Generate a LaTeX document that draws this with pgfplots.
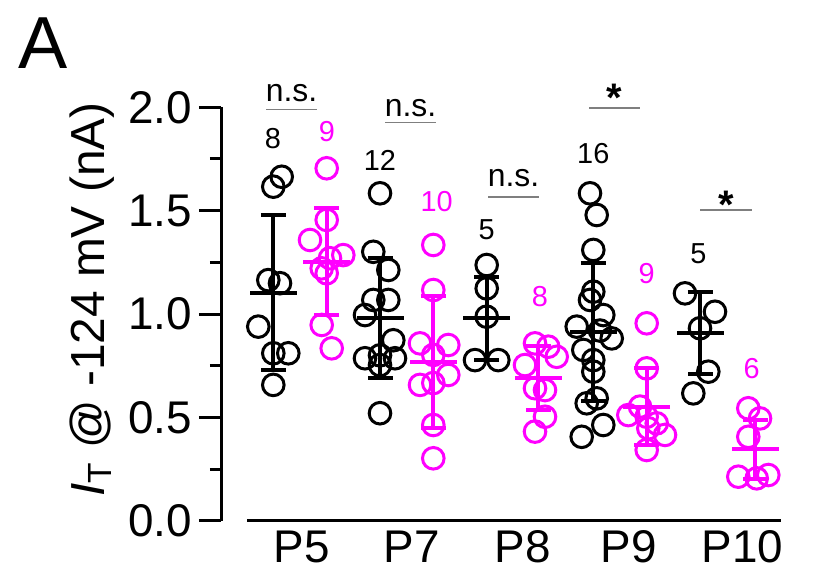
\documentclass[border=0pt]{standalone}
\usepackage{pgfplots}
\pgfplotsset{compat=1.18}
\usepackage{fontspec}
\setmainfont{Liberation Sans}
\definecolor{mag}{HTML}{FF00FF}
\definecolor{sigline}{HTML}{7F7F7F}
\begin{document}
\begin{tikzpicture}
\path[use as bounding box] (0,0) rectangle (407bp,-286bp);
\node[font=\fontsize{37}{37}\selectfont, anchor=center] at (21.5bp,-21.5bp) {A};
\begin{axis}[
  at={(110.5bp,-260.35bp)}, anchor=south west,
  scale only axis, width=281bp, height=206.7bp,
  xmin=221, xmax=783, ymin=0, ymax=2,
  clip=false,
  axis y line*=left, axis x line*=bottom,
  axis line style={-, line width=1.5bp},
  x axis line style={draw=none},
  tick align=outside,
  ytick={0,0.5,1,1.5,2},
  minor ytick={0.25,0.75,1.25,1.75},
  major tick length=11bp, minor tick length=5.5bp,
  every tick/.style={line width=1.5bp, black},
  major x tick style={draw=none},
  xtick={301.5,411.7,523,629,742.5},
  xticklabels={P5,P7,P8,P9,P10},
  xticklabel style={yshift=9.5bp},
  /pgf/number format/assume math mode=true,
  yticklabel={\pgfmathprintnumber[fixed,fixed zerofill,precision=1]{\tick}},
  tick label style={font=\fontsize{23}{23}\selectfont},
  ylabel={\textit{I}\textsubscript{T} @ -124 mV (nA)},
  ylabel style={font=\fontsize{24}{24}\selectfont, at={(axis description cs:-0.2295,0.535)}, anchor=center},
]
% x axis line
\addplot[black, line width=1.6bp] coordinates {(247,0) (781,0)};

% black circles
\addplot[only marks, mark=o, mark size=5.4bp, black, mark options={line width=1.5bp}] coordinates {
(273.3,1.616)(281.7,1.664)(268.3,1.164)(280,1.149)(258.3,0.939)(273.3,0.810)(288.3,0.810)(273.3,0.657)
(380,1.584)(373.3,1.301)(388.3,1.213)(373.3,1.068)(388.3,1.068)(365,0.995)(393.3,0.873)(365,0.786)(395,0.786)(380,0.753)(380,0.520)(380,0.80)
(486.7,1.237)(486.7,1.124)(486.7,0.987)(475,0.777)(498.3,0.777)
(590,1.584)(596.7,1.479)(593.3,1.310)(593.3,1.108)(590,1.068)(603.3,0.995)(576.7,0.939)(611.7,0.882)(583.3,0.826)(593.3,0.777)(593.3,0.721)(596.7,0.592)(586.7,0.568)(603.3,0.463)(581.7,0.406)(600,0.92)
(685,1.100)(715,1.011)(700,0.931)(708.3,0.721)(693.3,0.616)
};
% magenta circles
\addplot[only marks, mark=o, mark size=5.4bp, mag, mark options={line width=1.5bp}] coordinates {
(326.7,1.705)(326.7,1.455)(310,1.358)(343.3,1.285)(321.7,1.221)(326.7,1.197)(321.7,0.947)(331.7,0.834)(330,1.27)
(433.3,1.334)(433.3,1.116)(420,0.858)(448.3,0.850)(433.3,0.802)(420,0.657)(448.3,0.705)(433.3,0.666)(433.3,0.463)(433.3,0.302)
(535,0.858)(548.3,0.842)(556.7,0.793)(525,0.753)(535,0.641)(545,0.632)(545,0.503)(535,0.431)
(646.7,0.955)(646.7,0.737)(628.3,0.511)(640,0.552)(656.7,0.471)(648.3,0.447)(665,0.415)(646.7,0.342)(646.7,0.503)
(748.3,0.544)(760,0.495)(748.3,0.406)(738.3,0.213)(768.3,0.221)(756.7,0.205)
};

% mean +- SD, black
\addplot[only marks, black, mark=-, mark size=11.75bp, mark options={line width=2bp},
  error bars/.cd, y dir=both, y explicit,
  error bar style={line width=2bp},
  error mark options={rotate=90, mark size=6.25bp, line width=2bp}]
coordinates {
(273.3,1.103) +- (0,0.374)
(380,0.979) +- (0,0.290)
(486.7,0.979) +- (0,0.202)
(593.3,0.914) +- (0,0.335)
(700,0.907) +- (0,0.198)
};
% mean +- SD, magenta
\addplot[only marks, mag, mark=-, mark size=11.75bp, mark options={line width=2bp},
  error bars/.cd, y dir=both, y explicit,
  error bar style={line width=2bp},
  error mark options={rotate=90, mark size=6.25bp, line width=2bp}]
coordinates {
(326.7,1.253) +- (0,0.260)
(433.3,0.769) +- (0,0.320)
(538.3,0.689) +- (0,0.155)
(646.7,0.552) +- (0,0.185)
(755,0.345) +- (0,0.141)
};

% significance lines
\addplot[sigline, line width=0.8bp] coordinates {(266,1.990) (317,1.990)};
\addplot[sigline, line width=0.8bp] coordinates {(385,1.927) (436,1.927)};
\addplot[sigline, line width=0.8bp] coordinates {(488,1.567) (539,1.567)};
\addplot[sigline, line width=0.8bp] coordinates {(589,1.998) (640,1.998)};
\addplot[sigline, line width=0.8bp] coordinates {(700,1.503) (752,1.503)};

\node[font=\fontsize{16}{16}\selectfont] at (axis cs:291.5,2.069) {n.s.};
\node[font=\fontsize{16}{16}\selectfont] at (axis cs:410.5,1.997) {n.s.};
\node[font=\fontsize{16}{16}\selectfont] at (axis cs:513.5,1.658) {n.s.};
\node[font=\fontsize{20}{20}\selectfont\bfseries, anchor=base] at (axis cs:614.5,1.980) {*};
\node[font=\fontsize{20}{20}\selectfont\bfseries, anchor=base] at (axis cs:726,1.462) {*};

% n labels
\node[font=\fontsize{14.5}{14.5}\selectfont, black] at (axis cs:273,1.847) {8};
\node[font=\fontsize{14.5}{14.5}\selectfont, mag] at (axis cs:327,1.882) {9};
\node[font=\fontsize{14.5}{14.5}\selectfont, black] at (axis cs:380,1.745) {12};
\node[font=\fontsize{14.5}{14.5}\selectfont, mag] at (axis cs:436.7,1.543) {10};
\node[font=\fontsize{14.5}{14.5}\selectfont, black] at (axis cs:486.7,1.406) {5};
\node[font=\fontsize{14.5}{14.5}\selectfont, mag] at (axis cs:540,1.084) {8};
\node[font=\fontsize{14.5}{14.5}\selectfont, black] at (axis cs:593.3,1.777) {16};
\node[font=\fontsize{14.5}{14.5}\selectfont, mag] at (axis cs:646.7,1.197) {9};
\node[font=\fontsize{14.5}{14.5}\selectfont, black] at (axis cs:698.3,1.294) {5};
\node[font=\fontsize{14.5}{14.5}\selectfont, mag] at (axis cs:751.7,0.737) {6};
\end{axis}
\end{tikzpicture}
\end{document}
